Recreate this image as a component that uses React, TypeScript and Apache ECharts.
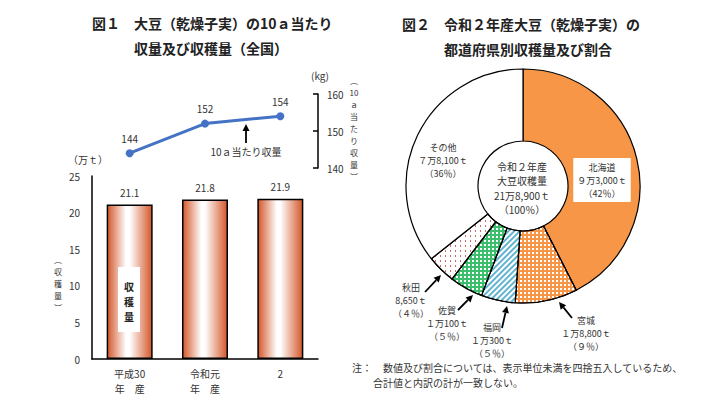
import React, { useEffect, useRef } from "react";
import * as echarts from "echarts";

// ---- Data ----
const years = ["平成30\n年　産", "令和元\n年　産", "2"];
const harvest = [21.1, 21.8, 21.9]; // 万t
const harvestLabels = ["21.1", "21.8", "21.9"];
const yieldPer10a = [144, 152, 154]; // kg
const harvestTicks = { min: 0, max: 25, interval: 5 };
const yieldTicks = { min: 140, max: 160, interval: 10 };

const prefectures = ["北海道", "宮城", "福岡", "佐賀", "秋田", "その他"];
const prefHarvest = [93000, 18800, 10300, 10100, 8650, 78100];
const prefHarvestText = ["９万3,000ｔ", "１万8,800ｔ", "１万300ｔ", "１万100ｔ", "8,650ｔ", "７万8,100ｔ"];
const prefShare = ["（42％）", "（９％）", "（５％）", "（５％）", "（４％）", "（36％）"];
const totalText = ["令和２年産", "大豆収穫量", "21万8,900ｔ", "（100％）"];

// ---- Layout (label positions for pie) ----
const pieLabelPos: [number, number][] = [
  [602, 180],
  [586, 333],
  [492, 340],
  [447, 323],
  [411, 300],
  [443, 160],
];

const FONT = "'Noto Sans CJK JP', 'Noto Sans', sans-serif";
const TXT = "#333";

function arrow(x1: number, y1: number, x2: number, y2: number) {
  const dx = x2 - x1;
  const dy = y2 - y1;
  const len = Math.sqrt(dx * dx + dy * dy);
  const ux = dx / len;
  const uy = dy / len;
  const hl = 7;
  const hw = 3.5;
  const bx = x2 - ux * hl;
  const by = y2 - uy * hl;
  return {
    type: "group",
    silent: true,
    children: [
      {
        type: "line",
        shape: { x1, y1, x2: bx, y2: by },
        style: { stroke: "#000", lineWidth: 1.8 },
      },
      {
        type: "polygon",
        shape: {
          points: [
            [x2, y2],
            [bx - uy * hw, by + ux * hw],
            [bx + uy * hw, by - ux * hw],
          ],
        },
        style: { fill: "#000" },
      },
    ],
  };
}

export default function App() {
  const ref = useRef<HTMLDivElement>(null);

  useEffect(() => {
    if (!ref.current) return;
    const chart = echarts.init(ref.current, undefined, { renderer: "svg" });

    const barGradient = {
      type: "linear",
      x: 0,
      y: 0,
      x2: 1,
      y2: 0,
      colorStops: [
        { offset: 0, color: "#d4572a" },
        { offset: 0.42, color: "#ffffff" },
        { offset: 0.5, color: "#ffffff" },
        { offset: 1, color: "#d4572a" },
      ],
    };

    const pieStyles: any[] = [
      { color: "#f79646" },
      {
        color: "#f79646",
        decal: { symbol: "rect", symbolSize: 1, color: "#ffffff", dashArrayX: [2, 2], dashArrayY: [2, 2], rotation: 0 },
      },
      {
        color: "#62b3cf",
        decal: { symbol: "rect", symbolSize: 1, color: "#ffffff", dashArrayX: [1, 0], dashArrayY: [1.5, 1.5], rotation: -Math.PI / 4 },
      },
      {
        color: "#3cbf6d",
        decal: { symbol: "rect", symbolSize: 1, color: "#ffffff", dashArrayX: [2, 2], dashArrayY: [2, 2], rotation: 0 },
      },
      {
        color: "#ffffff",
        decal: { symbol: "rect", symbolSize: 1, color: "#cc6a6a", dashArrayX: [1, 4], dashArrayY: [2, 3], rotation: 0 },
      },
      { color: "#ffffff" },
    ];

    const option: any = {
      animation: false,
      textStyle: { fontFamily: FONT, color: TXT },
      title: [
        {
          text: "図１　大豆（乾燥子実）の10ａ当たり\n　　　収量及び収穫量（全国）",
          left: 92,
          top: 10,
          padding: 0,
          textStyle: { fontSize: 14, fontWeight: "bold", color: "#222", lineHeight: 25, fontFamily: FONT },
        },
        {
          text: "図２　令和２年産大豆（乾燥子実）の\n　　　都道府県別収穫量及び割合",
          left: 402,
          top: 11,
          padding: 0,
          textStyle: { fontSize: 14, fontWeight: "bold", color: "#222", lineHeight: 25, fontFamily: FONT },
        },
      ],
      grid: [
        { left: 92, top: 176, width: 226, height: 183 },
        { left: 92, top: 94, width: 226, height: 74 },
      ],
      xAxis: [
        {
          type: "category",
          gridIndex: 0,
          data: years,
          axisLine: { lineStyle: { color: "#000", width: 1.5 } },
          axisTick: { show: false },
          axisLabel: { fontSize: 10, lineHeight: 15, margin: 7, color: TXT, interval: 0 },
        },
        {
          type: "category",
          gridIndex: 1,
          data: years,
          show: false,
        },
      ],
      yAxis: [
        {
          type: "value",
          gridIndex: 0,
          min: harvestTicks.min,
          max: harvestTicks.max,
          interval: harvestTicks.interval,
          axisLine: { show: true, lineStyle: { color: "#000", width: 1.5 } },
          axisTick: { show: false },
          splitLine: { show: false },
          axisLabel: { fontSize: 10, margin: 12, color: TXT },
        },
        {
          type: "value",
          gridIndex: 1,
          position: "right",
          min: yieldTicks.min,
          max: yieldTicks.max,
          interval: yieldTicks.interval,
          axisLine: { show: true, lineStyle: { color: "#000", width: 1.5 } },
          axisTick: { show: true, inside: true, length: 5, lineStyle: { color: "#000", width: 1.5 } },
          splitLine: { show: false },
          axisLabel: { fontSize: 10, margin: 9, color: TXT },
        },
      ],
      series: [
        {
          type: "bar",
          xAxisIndex: 0,
          yAxisIndex: 0,
          data: harvest,
          barWidth: 46,
          silent: true,
          itemStyle: { color: barGradient, borderColor: "#000", borderWidth: 1.5 },
          label: {
            show: true,
            position: "top",
            distance: 7,
            fontSize: 10,
            color: TXT,
            formatter: (p: any) => harvestLabels[p.dataIndex],
          },
          z: 2,
        },
        {
          type: "line",
          xAxisIndex: 1,
          yAxisIndex: 1,
          data: yieldPer10a,
          symbol: "circle",
          symbolSize: 8,
          silent: true,
          lineStyle: { color: "#4472c4", width: 3 },
          itemStyle: { color: "#4472c4" },
          label: { show: true, position: "top", distance: 6, fontSize: 10, color: TXT },
        },
        {
          type: "pie",
          center: [523, 186],
          radius: [45, 117],
          startAngle: 90,
          clockwise: true,
          silent: true,
          data: prefectures.map((name, i) => ({
            name,
            value: prefHarvest[i],
            itemStyle: pieStyles[i],
            label:
              i === 0
                ? { backgroundColor: "#fff", padding: [3, 4, 2, 4] }
                : {},
          })),
          itemStyle: { borderColor: "#000", borderWidth: 1.2 },
          label: {
            show: true,
            position: "inside",
            fontSize: 9,
            lineHeight: 13,
            color: TXT,
            textBorderWidth: 0,
            align: "center",
            formatter: (p: any) =>
              `${prefectures[p.dataIndex]}\n${prefHarvestText[p.dataIndex]}\n${prefShare[p.dataIndex]}`,
          },
          labelLine: { show: false },
          labelLayout: (p: any) => {
            const pos = pieLabelPos[p.dataIndex];
            return { x: pos[0], y: pos[1], align: "center", verticalAlign: "middle" };
          },
          emphasis: { disabled: true },
        },
      ],
      graphic: [
        // units and axis titles
        { type: "text", x: 88, y: 159, style: { text: "（万ｔ）", fill: TXT, font: `10px ${FONT}`, align: "center", verticalAlign: "middle" } },
        { type: "text", x: 320, y: 75, style: { text: "(kg)", fill: TXT, font: `10px ${FONT}`, align: "center", verticalAlign: "middle" } },
        {
          type: "text",
          x: 58,
          y: 283,
          style: { text: "︵\n収\n穫\n量\n︶", fill: TXT, font: `8px ${FONT}`, lineHeight: 12, align: "center", verticalAlign: "middle" },
        },
        {
          type: "text",
          x: 354,
          y: 128,
          style: { text: "︵\n10\nａ\n当\nた\nり\n収\n量\n︶", fill: TXT, font: `8px ${FONT}`, lineHeight: 12, align: "center", verticalAlign: "middle" },
        },
        // bar legend box
        { type: "rect", shape: { x: 118, y: 267, width: 22, height: 65 }, style: { fill: "#fff" }, z: 10 },
        {
          type: "text",
          x: 129,
          y: 301,
          z: 11,
          style: { text: "収\n穫\n量", fill: "#222", font: `bold 10px ${FONT}`, lineHeight: 15, align: "center", verticalAlign: "middle" },
        },
        // line annotation
        arrow(246, 143, 246, 124),
        { type: "text", x: 246, y: 151, style: { text: "10ａ当たり収量", fill: TXT, font: `10px ${FONT}`, align: "center", verticalAlign: "middle" } },
        // pie center
        {
          type: "text",
          x: 522,
          y: 188,
          style: { text: totalText.join("\n"), fill: TXT, font: `10px ${FONT}`, lineHeight: 14.5, align: "center", verticalAlign: "middle" },
        },
        // pie arrows
        arrow(572, 318, 559, 302),
        arrow(502, 328, 507, 306),
        arrow(458, 310, 473, 295),
        arrow(425, 292, 441, 275),
        // note
        { type: "text", x: 352, y: 367, style: { text: "注：", fill: TXT, font: `10px ${FONT}`, verticalAlign: "middle" } },
        { type: "text", x: 383, y: 367, style: { text: "数値及び割合については、表示単位未満を四捨五入しているため、", fill: TXT, font: `10px ${FONT}`, verticalAlign: "middle" } },
        { type: "text", x: 373, y: 382, style: { text: "合計値と内訳の計が一致しない。", fill: TXT, font: `10px ${FONT}`, verticalAlign: "middle" } },
      ],
    };

    chart.setOption(option);
    return () => chart.dispose();
  }, []);

  return (
    <div
      ref={ref}
      style={{ position: "absolute", left: 0, top: 0, width: 720, height: 396, background: "#fff" }}
    />
  );
}
